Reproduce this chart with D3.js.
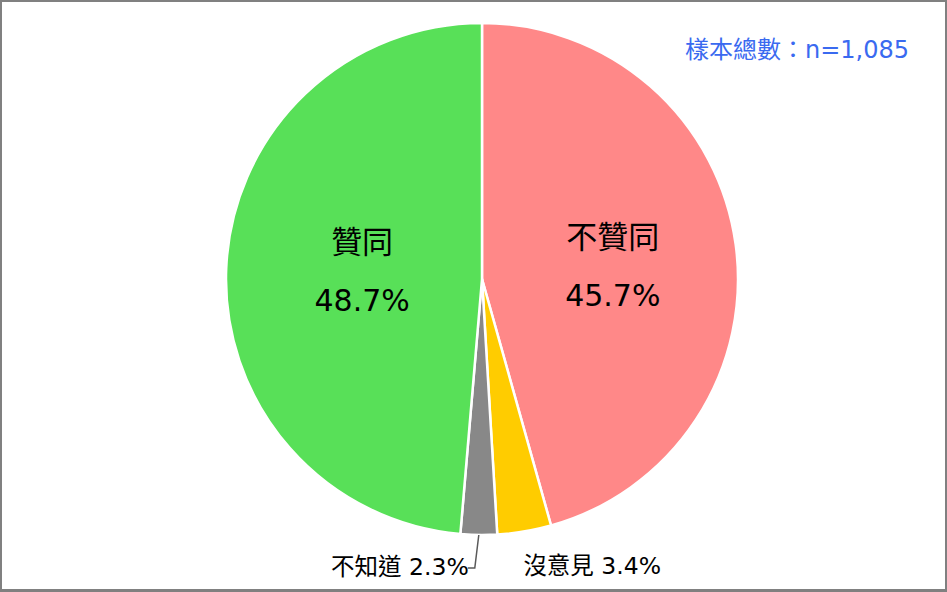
<!DOCTYPE html>
<html><head><meta charset="utf-8">
<script src="https://cdn.jsdelivr.net/npm/d3@7"></script>
<style>html,body{margin:0;padding:0;background:#fff;}svg{display:block;}</style>
</head><body>
<svg id="c" width="947" height="592"></svg>
<script>
const categories = ["不贊同", "沒意見", "不知道", "贊同"];
const values = [45.7, 3.4, 2.3, 48.7];
const colors = ["#ff8888", "#ffcc00", "#888888", "#58e058"];
const sampleLabel = "樣本總數：";
const sampleN = "n=1,085";

const W = 947, H = 592;
const svg = d3.select("#c");
const font = "'DejaVu Sans','Noto Sans CJK TC',sans-serif";
const cjk = "'Noto Sans CJK TC',sans-serif";

svg.append("rect").attr("x",0).attr("y",0).attr("width",W).attr("height",H).attr("fill","#fff");

const cx = 482, cy = 279, r = 256;
const g = svg.append("g").attr("transform",`translate(${cx},${cy})`);

const data = categories.map((c,i)=>({name:c, value:values[i], color:colors[i]}));
const pie = d3.pie().value(d=>d.value).sort(null);
const arcs = pie(data);
const arc = d3.arc().innerRadius(0).outerRadius(r);
const fmt = v => d3.format(".1f")(v)+"%";

g.selectAll("path.slice").data(arcs).enter().append("path")
  .attr("class","slice")
  .attr("d",arc)
  .attr("fill",d=>d.data.color)
  .attr("stroke","#fff").attr("stroke-width",2.5).attr("stroke-linejoin","round");

// inner labels for big slices
const labelArc = d3.arc().innerRadius(126).outerRadius(126);
arcs.filter(d=>d.data.value>10).forEach(d=>{
  let [x,y] = labelArc.centroid(d);
  x += 6; y = 0.44*y - 9;
  g.append("text").attr("x",x).attr("y",y-14.5).attr("text-anchor","middle")
    .attr("font-family",cjk).attr("font-size",31).attr("fill","#000").text(d.data.name);
  g.append("text").attr("x",x).attr("y",y+43.5).attr("text-anchor","middle")
    .attr("font-family",font).attr("font-size",30).attr("fill","#000")
    .text(fmt(d.data.value));
});

function smallLabel(x, y, anchor, d){
  const t = g.append("text").attr("x",x).attr("y",y).attr("text-anchor",anchor).attr("fill","#000");
  t.append("tspan").attr("font-family",cjk).attr("font-size",23.5).text(d.data.name);
  t.append("tspan").attr("font-family",font).attr("font-size",23.5).text(" "+fmt(d.data.value));
}

// outside labels for small slices
const edgeArc = d3.arc().innerRadius(r).outerRadius(r);
const small = arcs.filter(d=>d.data.value<=10);
{
  const d = small.find(s=>s.data.name==="沒意見");
  const [x,y] = edgeArc.centroid(d);
  smallLabel(x-1, y+43, "start", d);
}
{
  const d = small.find(s=>s.data.name==="不知道");
  const [x,y] = edgeArc.centroid(d);
  g.append("path").attr("d",`M${x},${y} L${x-4},${y+33} L${x-11},${y+33}`)
    .attr("fill","none").attr("stroke","#595959").attr("stroke-width",1.5);
  smallLabel(x-10, y+40, "end", d);
}

{
  const t = svg.append("text").attr("x",909).attr("y",58).attr("text-anchor","end").attr("fill","#3a6af0");
  t.append("tspan").attr("font-family",cjk).attr("font-size",24).text(sampleLabel);
  t.append("tspan").attr("font-family",font).attr("font-size",24).text(sampleN);
}

// border
svg.append("rect").attr("x",1).attr("y",1).attr("width",W-2).attr("height",H-3)
  .attr("fill","none").attr("stroke","#808080").attr("stroke-width",2);
svg.append("rect").attr("x",0).attr("y",589).attr("width",W).attr("height",3).attr("fill","#808080");
</script>
</body></html>
